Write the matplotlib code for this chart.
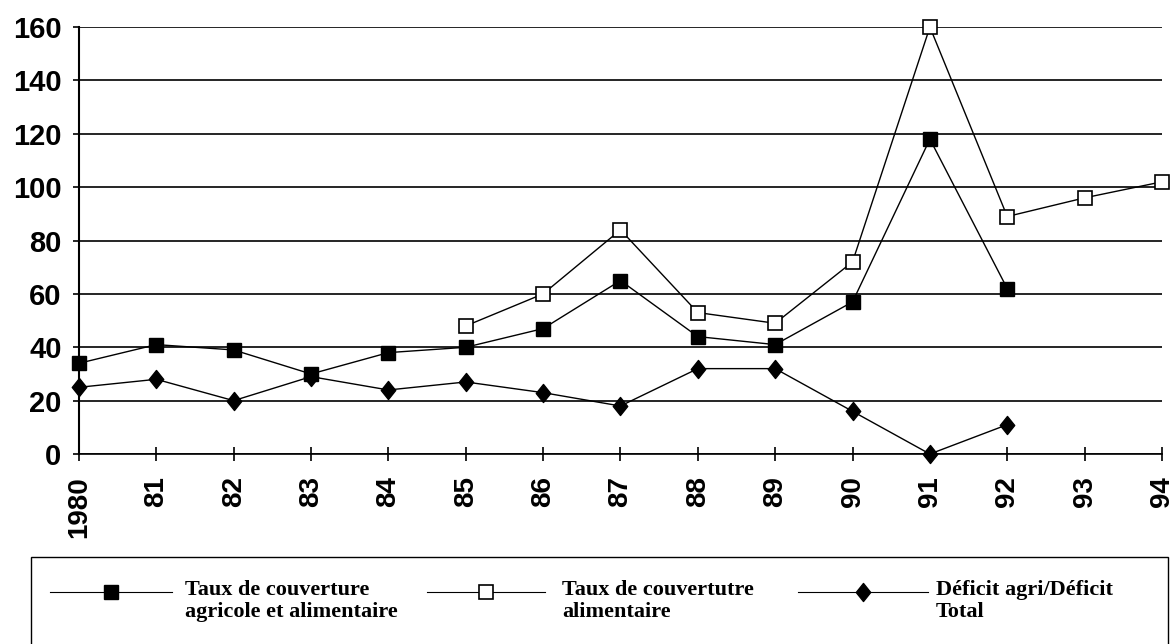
import matplotlib
matplotlib.use("Agg")
import matplotlib.pyplot as plt
import numpy as np
from matplotlib.lines import Line2D
from matplotlib.patches import Rectangle
from matplotlib.path import Path

nan = np.nan

# Années et libellés de l'axe horizontal
YEARS = list(range(1980, 1995))
YEAR_LABELS = ["1980", "81", "82", "83", "84", "85", "86", "87", "88", "89",
               "90", "91", "92", "93", "94"]

# Séries (en %)
TAUX_AGRI_ALIM = [34, 41, 39, 30, 38, 40, 47, 65, 44, 41, 57, 118, 62, nan, nan]
TAUX_ALIM = [nan, nan, nan, nan, nan, 48, 60, 84, 53, 49, 72, 160, 89, 96, 102]
DEFICIT_RATIO = [25, 28, 20, 29, 24, 27, 23, 18, 32, 32, 16, 0, 11, nan, nan]

LABELS = [
    "Taux de couverture\nagricole et alimentaire",
    "Taux de couvertutre\nalimentaire",
    "Déficit agri/Déficit\nTotal",
]

Y_TICKS = [0, 20, 40, 60, 80, 100, 120, 140, 160]

# losange un peu plus haut que large
DIAMOND = Path([(0, 1), (0.8, 0), (0, -1), (-0.8, 0), (0, 1)],
               [Path.MOVETO, Path.LINETO, Path.LINETO, Path.LINETO, Path.CLOSEPOLY])

STYLES = [
    dict(marker="s", markersize=10.5, markerfacecolor="black", markeredgecolor="black"),
    dict(marker="s", markersize=10.5, markerfacecolor="white", markeredgecolor="black",
         markeredgewidth=1.2),
    dict(marker=DIAMOND, markersize=13, markerfacecolor="black", markeredgecolor="black"),
]

fig = plt.figure(figsize=(11.73, 6.44), dpi=100)
ax = fig.add_axes([0.0673, 0.295, 0.9233, 0.663])

for series, style in zip([TAUX_AGRI_ALIM, TAUX_ALIM, DEFICIT_RATIO], STYLES):
    ax.plot(YEARS, np.array(series, dtype=float), color="black", linewidth=1.0,
            clip_on=False, zorder=3, **style)

ax.set_xlim(YEARS[0], YEARS[-1])
ax.set_ylim(0, 160)
ax.set_yticks(Y_TICKS)
ax.set_xticks(YEARS)
ax.set_xticklabels(YEAR_LABELS, rotation=90, fontsize=20, fontweight="bold",
                   family="Liberation Sans")
ax.set_yticklabels([str(v) for v in Y_TICKS], fontsize=21, fontweight="bold",
                   family="Liberation Sans")
ax.tick_params(axis="x", direction="inout", length=10, width=1.2, pad=11)
ax.tick_params(axis="y", direction="out", length=4.5, width=1.2, pad=8)

ax.yaxis.grid(True, color="black", linewidth=1.2)
ax.set_axisbelow(True)
for side in ["top", "right"]:
    ax.spines[side].set_visible(False)
ax.spines["left"].set_linewidth(1.5)
ax.spines["bottom"].set_linewidth(1.2)

# cadre de la légende, ouvert vers le bas
fig.add_artist(Rectangle((0.0264, -0.05), 0.9693, 0.185, transform=fig.transFigure,
                         fill=False, edgecolor="black", linewidth=1.0))

entries = [(50, 172, 185), (427, 545, 562), (798, 928, 936)]
handle_y = 1 - 592 / 644
W = 1173
for (x0, x1, xt), style, label in zip(entries, STYLES, LABELS):
    fig.add_artist(Line2D([x0 / W, x1 / W], [handle_y, handle_y],
                          transform=fig.transFigure, color="black", linewidth=0.8))
    fig.add_artist(Line2D([(x0 + x1) / 2 / W], [handle_y], transform=fig.transFigure,
                          linestyle="none", **style))
    fig.text(xt / W, 1 - 580 / 644, label, ha="left", va="top", fontsize=16,
             fontweight="bold", family="Liberation Serif", linespacing=1.15)

fig.savefig("out.png", dpi=100)
